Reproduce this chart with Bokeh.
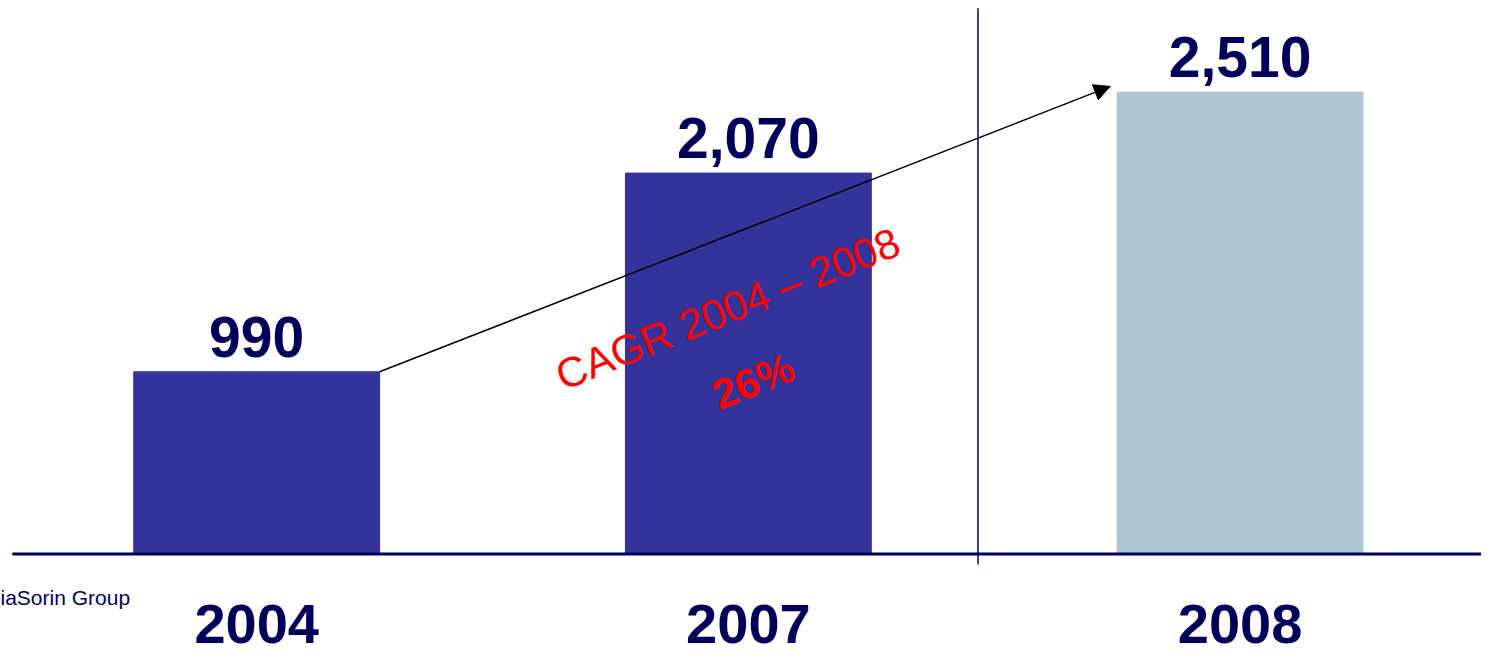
from bokeh.plotting import figure
from bokeh.models import Range1d, Label, Arrow, NormalHead, ColumnDataSource
from bokeh.core.properties import value
from bokeh.embed import file_html
from bokeh.resources import INLINE
import math

# ---- data ----
years = ["2004", "2007", "2008"]
values = [990, 2070, 2510]
value_labels = ["990", "2,070", "2,510"]
bar_colors = ["#333399", "#333399", "#AEC5D6"]
cagr_title = "CAGR 2004 \u2013 2008"
cagr_value = "26%"
footer = "iaSorin Group"

NAVY = "#00005A"
FONT = "Liberation Sans"

xs = list(range(len(years)))
BAR_W = 0.5

p = figure(width=1481, height=655, output_backend="svg", toolbar_location=None,
           x_range=Range1d(-0.521, 2.491), y_range=Range1d(-552, 3008),
           min_border=0, background_fill_color="white", border_fill_color="white")
p.axis.visible = False
p.grid.visible = False
p.outline_line_color = None

src = ColumnDataSource(dict(x=xs, top=values, color=bar_colors, vlab=value_labels, year=years))

p.vbar(x="x", top="top", bottom=0, width=BAR_W, color="color", source=src)

# baseline
p.segment(x0=[-0.497], y0=[0], x1=[2.6], y1=[0], line_color=NAVY, line_width=3)
# divider between actual and forecast
p.segment(x0=[1.467], y0=[-58], x1=[1.467], y1=[2966], line_color=NAVY, line_width=1.5)

# value labels
p.text(x="x", y="top", text="vlab", source=src, text_align="center", text_baseline="middle",
       y_offset=-35, text_font=value(FONT), text_font_style="bold", text_font_size="57px",
       text_color=NAVY)
# year labels
p.text(x="x", y=0, text="year", source=src, text_align="center", text_baseline="middle",
       y_offset=70, text_font=value(FONT), text_font_style="bold", text_font_size="56px",
       text_color=NAVY)

# CAGR arrow
x_start = xs[0] + BAR_W / 2
y_start = values[0]
x_end = xs[2] - BAR_W / 2 - 0.014
y_end = values[2] + 31
p.add_layout(Arrow(end=NormalHead(size=16, fill_color="black", line_color="black"),
                   x_start=x_start, y_start=y_start, x_end=x_end, y_end=y_end,
                   line_color="black", line_width=1.5))

ang = math.radians(22)
p.add_layout(Label(x=0.958, y=1332, text=cagr_title, angle=ang, text_align="center",
                   text_baseline="middle", text_font=FONT, text_font_size="42px",
                   text_color="#FF0000"))
p.add_layout(Label(x=1.010, y=940, text=cagr_value, angle=ang, text_align="center",
                   text_baseline="middle", text_font=FONT, text_font_style="bold",
                   text_font_size="42px", text_color="#FF0000"))

p.add_layout(Label(x=0, y=58, x_units="screen", y_units="screen", text=footer,
                   text_align="left", text_baseline="middle", text_font=FONT,
                   text_font_size="21px", text_color=NAVY))

open("out.html", "w").write(file_html(p, INLINE))
